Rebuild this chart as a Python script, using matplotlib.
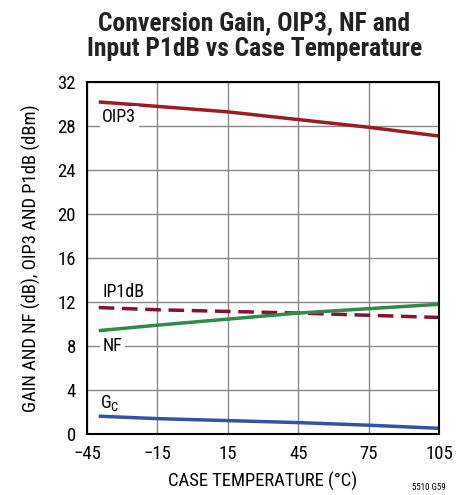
import matplotlib
matplotlib.use("Agg")
import matplotlib.pyplot as plt
import numpy as np

# data
temp = [-40, -15, 15, 45, 75, 105]
oip3 = [30.2, 29.8, 29.3, 28.6, 27.9, 27.1]
ip1db = [11.5, 11.3, 11.15, 11.0, 10.8, 10.6]
nf = [9.4, 9.9, 10.45, 11.0, 11.4, 11.8]
gc = [1.62, 1.4, 1.22, 1.04, 0.8, 0.52]

xticks = [-45, -15, 15, 45, 75, 105]
yticks = [0, 4, 8, 12, 16, 20, 24, 28, 32]

plt.rcParams['font.family'] = ['Roboto Condensed', 'DejaVu Sans']
plt.rcParams['mathtext.fontset'] = 'custom'
plt.rcParams['mathtext.rm'] = 'Roboto Condensed'

fig = plt.figure(figsize=(4.69, 4.95), dpi=100)
ax = fig.add_axes([0.1855, 0.1232, 0.7505, 0.7108])

ax.plot(temp, oip3, color='#9b1c24', lw=2.5, solid_capstyle='butt')
ax.plot(temp, ip1db, color='#8a1030', lw=2.5, ls=(0, (4.5, 2.2)))
ax.plot(temp, nf, color='#2f8a4c', lw=2.5, solid_capstyle='butt')
ax.plot(temp, gc, color='#3553a6', lw=2.5, solid_capstyle='butt')

ax.set_xlim(-45, 105)
ax.set_ylim(0, 32)
ax.set_xticks(xticks)
ax.set_yticks(yticks)
ax.grid(True, color='#888888', lw=1)
ax.set_axisbelow(True)
ax.tick_params(length=0, labelsize=13.5, pad=8)
for s in ax.spines.values():
    s.set_linewidth(1.5)

bb = dict(facecolor='white', edgecolor='none', pad=2)
ax.text(-38.5, 28.8, 'OIP3', fontsize=13, va='center', ha='left', bbox=bb)
ax.text(-38.5, 12.9, 'IP1dB', fontsize=13, va='center', ha='left')
ax.text(-38.5, 8.0, 'NF', fontsize=13, va='center', ha='left', bbox=bb)
ax.text(-39.5, 2.8, 'G$_\\mathregular{C}$', fontsize=13, va='center', ha='left')

ax.set_xlabel('CASE TEMPERATURE (°C)', fontsize=13.4, labelpad=6)
ax.set_ylabel('GAIN AND NF (dB), OIP3 AND P1dB (dBm)', fontsize=13.4, labelpad=12)

fig.text(0.542, 0.978, 'Conversion Gain, OIP3, NF and\nInput P1dB vs Case Temperature',
         fontsize=18.4, fontweight='bold', ha='center', va='top', linespacing=1.12,
         color='#222222')
fig.text(0.95, 0.006, '5510 G59', fontsize=6.5, ha='right', va='bottom')

fig.savefig('out.png', dpi=100)
